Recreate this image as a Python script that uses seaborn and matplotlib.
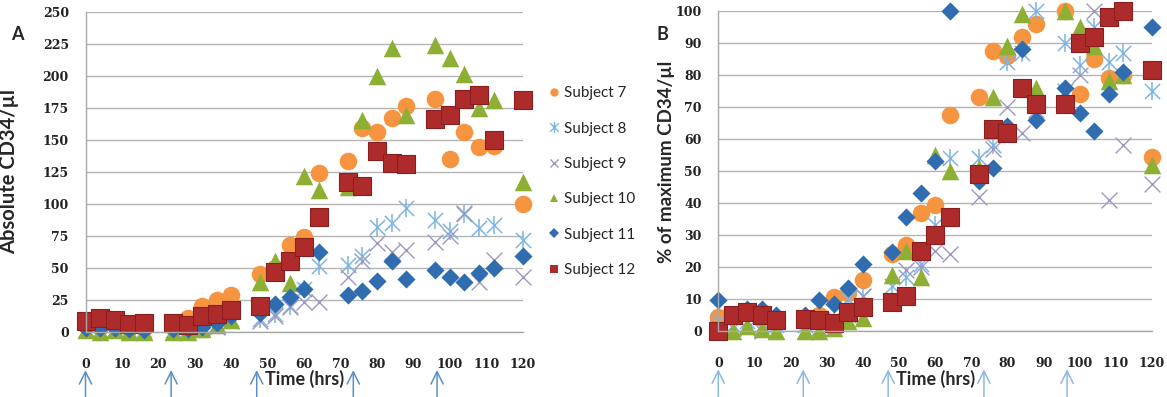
import matplotlib
matplotlib.use('Agg')
import matplotlib.pyplot as plt
from matplotlib.lines import Line2D
from matplotlib.path import Path
import numpy as np
import pandas as pd
import seaborn as sns

# sampling times (hrs)
hours = [0, 4, 8, 12, 16, 24, 28, 32, 36, 40, 48, 52, 56, 60, 64,
         72, 76, 80, 84, 88, 96, 100, 104, 108, 112, 120]
dose_hrs = [0, 23.5, 47, 73.5, 96.5]
subjects = ['Subject 7', 'Subject 8', 'Subject 9', 'Subject 10', 'Subject 11', 'Subject 12']

# panel A: absolute CD34/ul
abs_s7 = [5, 4, 5, 3, 3, 4, 11, 20, 25, 29, 45, 50, 68, 74, 124,
          133, 159, 156, 167, 176, 182, 135, 156, 144, 145, 100]
abs_s8 = [2, 1, 2, 1, 1, 1, 2, 3, 6, 10, 10, 14, 20, 33, 51,
          52, 59, 82, 85, 97, 87, 79, 92, 81, 83, 72]
abs_s9 = [1, 1, 1, 0, 0, 0, 1, 2, 4, 8, 8, 12, 19, 23, 23,
          43, 55, 69, 62, 64, 70, 75, 93, 39, 56, 43]
abs_s10 = [1, 0, 1, 0, 0, 0, 0, 2, 5, 9, 39, 55, 38, 122, 111,
           113, 165, 200, 222, 169, 224, 214, 201, 175, 181, 117]
abs_s11 = [3, 3, 3, 2, 1, 2, 2, 4, 7, 12, 15, 22, 27, 33, 62,
           29, 32, 40, 55, 41, 48, 43, 39, 46, 50, 59]
abs_s12 = [8, 11, 9, 6, 7, 7, 5, 12, 14, 17, 20, 47, 55, 66, 90,
           117, 114, 141, 132, 131, 166, 169, 182, 185, 150, 181]

# panel B: % of maximum
pct_s7 = [4.4, 5, 6, 4, 3, 3, 5, 10.5, 12, 16, 24, 27, 37, 39.5, 67.5,
          73, 87.5, 86, 92, 96, 100, 74, 85, 79, 80, 54.5]
pct_s8 = [3, 2, 3, 2, 2, 2, 3, 4, 10, 11, 14, 17, 21, 33, 54,
          54, 58, 84, 87, 100, 90, 83, 95, 84, 87, 75]
pct_s9 = [1, 1, 1, 0, 0, 0, 1, 2, 5, 11, 9, 19, 20, 25, 24,
          42, 57, 70, 62, 69, 75, 80, 100, 41, 58, 46]
pct_s10 = [0, 0, 1.5, 0.5, 0, 0, 0, 1, 3, 4, 17.5, 25, 17, 55, 50,
           51, 73, 89, 99, 76, 100, 95, 89, 78, 80, 52]
pct_s11 = [9.7, 5, 7, 7, 5, 5, 9.7, 8.4, 13.4, 21, 24.8, 35.7, 43, 53, 100,
           47, 51, 64, 88, 66, 76, 68, 62.5, 74, 81, 95]
pct_s12 = [0, 5, 6, 5, 3.5, 3.7, 3.5, 2.5, 6, 7.6, 9, 11, 25, 30, 35.7,
           49, 63, 62, 76, 71, 71, 90, 92, 98, 100, 81.6]

colors = {'Subject 7': '#F7943F', 'Subject 8': '#7DB4E2', 'Subject 9': '#9C98C2',
          'Subject 10': '#8DAF34', 'Subject 11': '#2F6CB0', 'Subject 12': '#AE2B2B'}
markers = {'Subject 7': 'o', 'Subject 8': 'star', 'Subject 9': 'x',
           'Subject 10': '^', 'Subject 11': 'D', 'Subject 12': 's'}
sizes = {'o': 160, 'x': 130, '^': 160, 'D': 85, 's': 165}

star_path = Path([(-1, -1), (1, 1), (-1, 1), (1, -1), (0, -1.3), (0, 1.3)],
                 [Path.MOVETO, Path.LINETO, Path.MOVETO, Path.LINETO, Path.MOVETO, Path.LINETO])

sns.set_style('white')
plt.rcParams['font.family'] = ['Lato', 'DejaVu Sans']

fig = plt.figure(figsize=(11.67, 3.97), dpi=100)
axA = fig.add_axes([85.5 / 1167, 1 - 331.7 / 397, 437.2 / 1167, 320 / 397])
axB = fig.add_axes([718.3 / 1167, 1 - 331.0 / 397, 433.7 / 1167, 320 / 397])


def draw(ax, series, ymax, ystep, ylabel, ylsize, arrow_col):
    df = pd.DataFrame({'hrs': np.tile(hours, len(subjects)),
                       'val': np.concatenate(series),
                       'subject': np.repeat(subjects, len(hours))})
    for s in subjects:
        d = df[df.subject == s]
        m = markers[s]
        if m == 'star':
            sns.scatterplot(data=d, x='hrs', y='val', ax=ax, marker='x', s=120,
                            color=colors[s], linewidth=1.1, clip_on=False)
            sns.scatterplot(data=d, x='hrs', y='val', ax=ax, marker='|', s=150,
                            color=colors[s], linewidth=1.1, clip_on=False)
        elif m == 'x':
            sns.scatterplot(data=d, x='hrs', y='val', ax=ax, marker='x', s=sizes[m],
                            color=colors[s], linewidth=1.0, clip_on=False)
        elif m == 's':
            sns.scatterplot(data=d, x='hrs', y='val', ax=ax, marker='s', s=sizes[m],
                            color=colors[s], edgecolor='#8A1E1E', linewidth=0.8, clip_on=False)
        else:
            sns.scatterplot(data=d, x='hrs', y='val', ax=ax, marker=m, s=sizes[m],
                            color=colors[s], linewidth=0, clip_on=False)
    ax.set_xlim(0, 120)
    ax.set_ylim(0, ymax)
    ax.set_xticks(range(0, 121, 10))
    ax.set_yticks(np.arange(0, ymax + 1, ystep))
    ax.yaxis.grid(True, color='#B4B4B4', lw=1.0)
    ax.set_axisbelow(True)
    for side in ['top', 'right']:
        ax.spines[side].set_visible(False)
    for side in ['left', 'bottom']:
        ax.spines[side].set_color('#A8A8A8')
        ax.spines[side].set_linewidth(1.0)
    ax.tick_params(axis='x', direction='out', length=4, color='#A8A8A8', pad=15)
    ax.tick_params(axis='y', length=0, pad=12)
    for lab in ax.get_xticklabels() + ax.get_yticklabels():
        lab.set_family('DejaVu Serif')
        lab.set_fontweight('bold')
        lab.set_fontsize(9)
        lab.set_color('#222222')
    ax.set_xlabel('Time (hrs)', fontsize=13, fontweight='bold')
    ax.xaxis.set_label_coords(0.5, -0.12)
    ax.set_ylabel(ylabel, fontsize=ylsize, fontweight='bold')
    for t in dose_hrs:
        ax.annotate('', xy=(t, -0.12), xytext=(t, -0.215),
                    xycoords=ax.get_xaxis_transform(),
                    arrowprops=dict(arrowstyle='->', color=arrow_col, lw=1.1,
                                    mutation_scale=22, shrinkA=0, shrinkB=0),
                    annotation_clip=False)


draw(axA, [abs_s7, abs_s8, abs_s9, abs_s10, abs_s11, abs_s12], 250, 25,
     'Absolute CD34/µl', 14.5, '#5A8FC8')
draw(axB, [pct_s7, pct_s8, pct_s9, pct_s10, pct_s11, pct_s12], 100, 10,
     '% of maximum CD34/µl', 13.5, '#8DB8E2')
axA.yaxis.set_label_coords(-0.152, 0.5)
axB.yaxis.set_label_coords(-0.1, 0.53)

fig.text(11 / 1167, 1 - 35 / 397, 'A', fontsize=13, fontweight='bold', va='center')
fig.text(656 / 1167, 1 - 35 / 397, 'B', fontsize=13, fontweight='bold', va='center')

handles = []
for s in subjects:
    m = markers[s]
    if m == 'star':
        handles.append(Line2D([], [], ls='none', marker=star_path, markersize=8,
                              markerfacecolor='none', markeredgecolor=colors[s], mew=1.0))
    elif m == 'x':
        handles.append(Line2D([], [], ls='none', marker='x', markersize=6,
                              color=colors[s], mew=1.0))
    else:
        handles.append(Line2D([], [], ls='none', marker=m, markersize=6 if m != 'D' else 5,
                              color=colors[s], mew=0))
fig.legend(handles, subjects, loc='upper left', bbox_to_anchor=(540 / 1167, 1 - 80 / 397),
           frameon=False, fontsize=11, labelspacing=1.4, handletextpad=0.2,
           handlelength=1.0, borderaxespad=0)

plt.savefig('out.png', dpi=100)
